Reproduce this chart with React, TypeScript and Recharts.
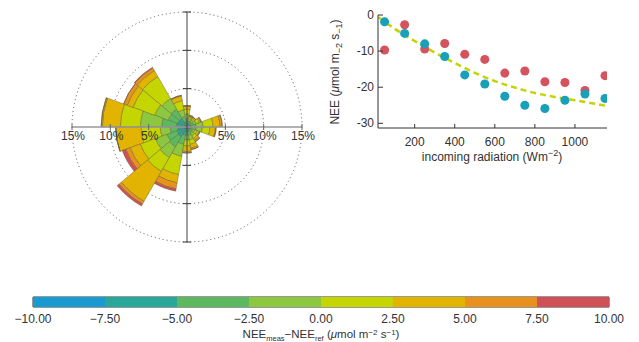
import React from "react";
import {
  RadialBarChart, RadialBar, PolarGrid, PolarAngleAxis, PolarRadiusAxis,
  ComposedChart, Scatter, Line, XAxis, YAxis, BarChart, Bar, ReferenceArea, Label,
} from "recharts";

const FONT = "'Liberation Sans', Arial, sans-serif";
const INK = "#333";

// NEE_meas - NEE_ref classes (colour bar)
const classEdges = [-10, -7.5, -5, -2.5, 0, 2.5, 5, 7.5, 10];
const classColors = ["#1b9ad2", "#2aa79b", "#5db95f", "#8dc63f", "#c4d500", "#e2b400", "#e8921d", "#cf5157"];
const classKeys = ["c1", "c2", "c3", "c4", "c5", "c6", "c7", "c8"];

// wind rose: compass centre of each 20 degree sector
const directions = [0, 20, 40, 60, 80, 100, 120, 140, 160, 180, 200, 220, 240, 260, 280, 300, 320, 340];
// % of half hours in each class, per sector
const c1 = [0.2, 0.2, 0.2, 0.2, 0.2, 0.2, 0.2, 0.2, 0.2, 0.2, 0.2, 0.3, 0.3, 0.3, 0.3, 0.3, 0.3, 0.2];
const c2 = [0.4, 0.3, 0.3, 0.3, 0.4, 0.4, 0.3, 0.3, 0.4, 0.4, 0.9, 1.2, 1.1, 0.9, 1.1, 1.0, 1.0, 0.5];
const c3 = [0.5, 0.3, 0.3, 0.4, 0.6, 0.6, 0.3, 0.4, 0.5, 0.5, 1.2, 1.5, 1.4, 1.0, 1.9, 1.3, 1.4, 0.7];
const c4 = [0.6, 0.3, 0.3, 0.4, 0.9, 0.8, 0.3, 0.4, 0.6, 0.6, 1.6, 1.6, 1.6, 1.3, 2.8, 1.9, 1.6, 0.9];
const c5 = [0.6, 0.2, 0.2, 0.4, 1.3, 1.0, 0.3, 0.4, 0.6, 0.8, 2.4, 2.1, 2.1, 2.5, 2.6, 3.0, 3.3, 1.2];
const c6 = [0.4, 0.1, 0.2, 0.2, 0.9, 0.7, 0.3, 0.3, 0.5, 0.7, 1.1, 4.5, 1.4, 3.3, 2.35, 0.8, 0.9, 0.6];
const c7 = [0.1, 0.1, 0.0, 0.1, 0.3, 0.1, 0.1, 0.2, 0.2, 0.2, 0.8, 0.4, 0.6, 0.0, 0.15, 0.5, 0.4, 0.1];
const c8 = [0.0, 0.1, 0.0, 0.0, 0.0, 0.0, 0.0, 0.0, 0.0, 0.0, 0.3, 0.3, 0.5, 0.0, 0.0, 0.0, 0.1, 0.0];
const roseTicks = [0, 5, 10, 15];

// NEE vs incoming radiation
const radBins = [50, 150, 250, 350, 450, 550, 650, 750, 850, 950, 1050, 1150];
const neeRed = [-9.7, -2.7, -9.4, -7.9, -10.9, -12.3, -16.1, -15.5, -18.5, -18.7, -20.9, -16.8];
const neeTeal = [-1.9, -5.1, -8.0, -11.5, -16.6, -19.1, -22.5, -25.0, -25.9, -23.6, -21.9, -23.1];
const fitRad = [20, 100, 200, 300, 400, 500, 600, 700, 800, 900, 1000, 1100, 1150];
const fitNee = [-0.6, -3.8, -7.2, -10.4, -13.3, -16.0, -18.3, -20.1, -21.6, -22.7, -23.6, -24.6, -25.1];
const radTicks = [200, 400, 600, 800, 1000];
const neeTicks = [-30, -25, -20, -15, -10, -5, 0];

const classArrays = [c1, c2, c3, c4, c5, c6, c7, c8];
// sectors ordered counter-clockwise starting at north
const roseData = directions.map((_, i) => {
  const k = (directions.length - i) % directions.length;
  const row: any = { dir: directions[k] };
  classKeys.forEach((key, j) => (row[key] = classArrays[j][k]));
  return row;
});

const redData = radBins.map((r, i) => ({ rad: r, nee: neeRed[i] }));
const tealData = radBins.map((r, i) => ({ rad: r, nee: neeTeal[i] }));
const fitData = fitRad.map((r, i) => ({ rad: r, nee: fitNee[i] }));

// colour bar segments, stacked away from zero
const barSegs = classKeys
  .map((key, i) => ({ key, color: classColors[i], lo: classEdges[i], hi: classEdges[i + 1] }))
  .sort((a, b) => Math.abs(a.lo + a.hi) - Math.abs(b.lo + b.hi));
const barRow: any = { name: "cb" };
barSegs.forEach((s) => (barRow[s.key] = s.hi <= 0 ? -(s.hi - s.lo) : s.hi - s.lo));

const txt = { fontFamily: FONT, fontSize: 12, fill: INK };

const HTick = (props: any) => {
  const { x, y, payload } = props;
  if (!payload || payload.value === 0) return <g />;
  return (
    <g>
      <line x1={x} y1={y - 3} x2={x} y2={y + 3} stroke="#666" />
      <text x={x + 1} y={y + 13} textAnchor="middle" {...txt}>{payload.value}%</text>
    </g>
  );
};

const VTick = (props: any) => {
  const { x, y, payload } = props;
  if (!payload || payload.value === 0) return <g />;
  return <line x1={x - 4} y1={y} x2={x + 4} y2={y} stroke="#333" />;
};

const XTick = (props: any) => {
  const { x, y, payload } = props;
  return (
    <g>
      <line x1={x} y1={y} x2={x} y2={y - 4} stroke="#333" />
      <text x={x} y={y + 18} textAnchor="middle" {...txt}>{payload.value}</text>
    </g>
  );
};

const YTick = (props: any) => {
  const { x, y, payload } = props;
  return (
    <g>
      <line x1={x} y1={y} x2={x + 5} y2={y} stroke="#333" />
      <text x={x - 4} y={y + 4} textAnchor="end" {...txt}>{payload.value}</text>
    </g>
  );
};

const armProps = {
  type: "number" as const,
  domain: [0, 15],
  ticks: roseTicks,
  allowDataOverflow: true,
  tickLine: false,
};

const WindRose = () => (
  <RadialBarChart
    width={372}
    height={262}
    cx={187}
    cy={127}
    innerRadius={0}
    outerRadius={115}
    startAngle={100}
    endAngle={459.99}
    layout="centric"
    barCategoryGap={0}
    barGap={0}
    data={roseData}
    margin={{ top: 0, right: 0, bottom: 0, left: 0 }}
  >
    <PolarGrid gridType="circle" radialLines={false} stroke="#555" strokeDasharray="1 3" />
    <PolarAngleAxis dataKey="dir" type="category" tick={false} axisLine={false} tickLine={false} />
    {classKeys.map((key, i) => (
      <RadialBar
        key={key}
        dataKey={key}
        stackId="rose"
        fill={classColors[i]}
        stroke="#5c5c3c"
        strokeWidth={0.6}
        strokeOpacity={0.7}
        isAnimationActive={false}
      />
    ))}
    <PolarRadiusAxis {...armProps} angle={0} axisLine={{ stroke: "#999", strokeWidth: 1.5 }} tick={HTick} />
    <PolarRadiusAxis {...armProps} radiusAxisId="w" angle={180} axisLine={{ stroke: "#999", strokeWidth: 1.5 }} tick={HTick} />
    <PolarRadiusAxis {...armProps} radiusAxisId="n" angle={90} axisLine={{ stroke: "#444" }} tick={VTick} />
    <PolarRadiusAxis {...armProps} radiusAxisId="s" angle={270} axisLine={{ stroke: "#444" }} tick={VTick} />
  </RadialBarChart>
);

const NeeScatter = () => (
  <ComposedChart width={329} height={175} margin={{ top: 15, right: 32, bottom: 0, left: 28 }}>
    <XAxis
      dataKey="rad"
      type="number"
      domain={[17, 1160]}
      ticks={radTicks}
      allowDataOverflow
      height={47}
      tickSize={0}
      tickMargin={0}
      tickLine={false}
      tick={XTick}
      axisLine={{ stroke: "#333" }}
    >
      <Label
        content={() => (
          <text x={182} y={161} textAnchor="middle" {...txt}>
            incoming radiation (Wm<tspan dy={-5} fontSize={9}>−2</tspan><tspan dy={5}>)</tspan>
          </text>
        )}
      />
    </XAxis>
    <YAxis
      dataKey="nee"
      type="number"
      domain={[-31.3, 0]}
      ticks={neeTicks}
      allowDataOverflow
      width={40}
      tickSize={0}
      tickMargin={0}
      tickLine={false}
      tick={YTick}
      axisLine={{ stroke: "#333" }}
    >
      <Label
        content={() => (
          <text x={29} y={72} textAnchor="middle" transform="rotate(-90 29 72)" {...txt}>
            NEE (<tspan fontStyle="italic">μ</tspan>mol m<tspan dy={3} fontSize={9}>−2</tspan>
            <tspan dy={-3}> s</tspan><tspan dy={3} fontSize={9}>−1</tspan><tspan dy={-3}>)</tspan>
          </text>
        )}
      />
    </YAxis>
    <Scatter data={redData} fill="#d4535c" isAnimationActive={false} />
    <Scatter data={tealData} fill="#17a0b8" isAnimationActive={false} />
    <Line
      data={fitData}
      dataKey="nee"
      type="monotone"
      dot={false}
      stroke="#c3d400"
      strokeWidth={2.5}
      strokeDasharray="6 4"
      isAnimationActive={false}
    />
  </ComposedChart>
);

const ColourBar = () => (
  <BarChart
    width={639}
    height={52}
    layout="vertical"
    data={[barRow]}
    stackOffset="sign"
    barCategoryGap={0}
    margin={{ top: 7, right: 30, bottom: 0, left: 33 }}
  >
    <XAxis
      type="number"
      domain={[-10, 10]}
      ticks={classEdges}
      height={35}
      tickLine={false}
      axisLine={false}
      tickMargin={1}
      tickFormatter={(v: number) => v.toFixed(2).replace("-", "−")}
      tick={{ ...txt }}
    >
      <Label
        content={() => (
          <text x={321} y={48} textAnchor="middle" {...txt} fontSize={11.5}>
            NEE<tspan dy={2.5} fontSize={7.5}>meas</tspan><tspan dy={-2.5}>−NEE</tspan>
            <tspan dy={2.5} fontSize={7.5}>ref</tspan>
            <tspan dy={-2.5}> (</tspan><tspan fontStyle="italic">μ</tspan>mol m<tspan dy={-3.5} fontSize={8}>−2</tspan>
            <tspan dy={3.5}> s</tspan><tspan dy={-3.5} fontSize={8}>−1</tspan><tspan dy={3.5}>)</tspan>
          </text>
        )}
      />
    </XAxis>
    <YAxis type="category" dataKey="name" hide />
    {barSegs.map((s) => (
      <Bar key={s.key} dataKey={s.key} stackId="cb" fill={s.color} isAnimationActive={false} />
    ))}
    <ReferenceArea x1={-10} x2={10} fill="none" stroke="#333" strokeWidth={1} />
  </BarChart>
);

export default function App() {
  return (
    <div style={{ position: "absolute", left: 0, top: 0, width: 639, height: 342, background: "#fff" }}>
      <div style={{ position: "absolute", left: 0, top: 0 }}>
        <WindRose />
      </div>
      <div style={{ position: "absolute", left: 310, top: 0 }}>
        <NeeScatter />
      </div>
      <div style={{ position: "absolute", left: 0, top: 290 }}>
        <ColourBar />
      </div>
    </div>
  );
}
